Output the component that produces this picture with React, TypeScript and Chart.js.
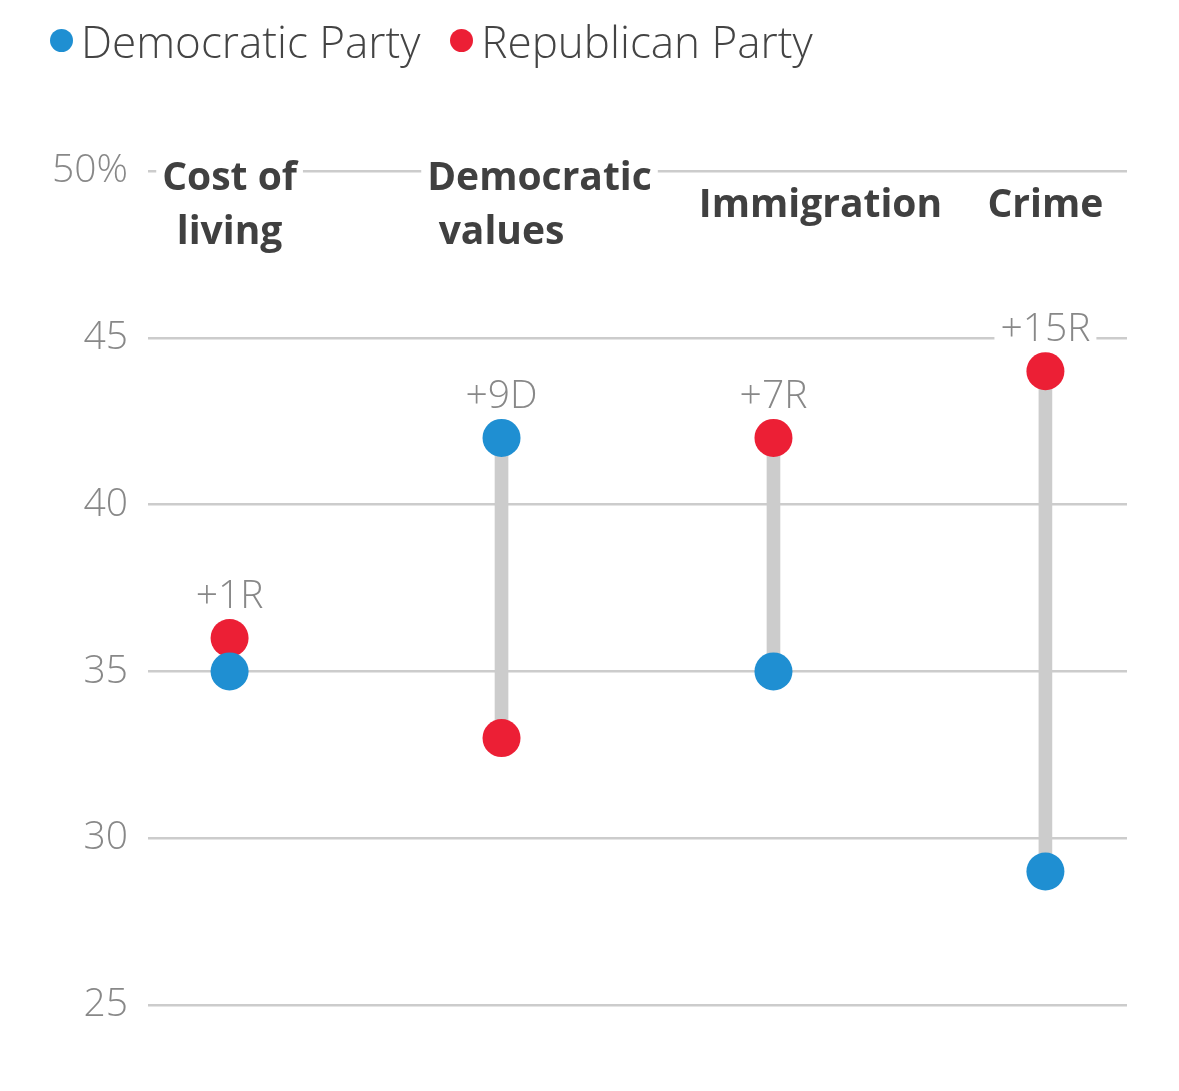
import React, { useEffect, useRef } from "react";
import { Chart, registerables } from "chart.js";

Chart.register(...registerables);

const categories = [["Cost of", "living"], ["Democratic", "values"], ["Immigration"], ["Crime"]];
const democratic = [35, 42, 35, 29];
const republican = [36, 33, 42, 44];
const yTicks = [25, 30, 35, 40, 45, 50];

const BLUE = "#1f8fd2";
const RED = "#ec1f35";
const FONT = '"Open Sans", "Noto Sans", sans-serif';
// horizontal nudges (px) per heading line, as in the original layout
const headingNudge = [[0, 0], [38, 0], [47], [0]];

const labelPlugin = {
  id: "dumbbellLabels",
  afterDatasetsDraw(chart: any) {
    const { ctx, scales, chartArea } = chart;
    const x = scales.x;
    const y = scales.y;
    ctx.save();
    ctx.textAlign = "center";
    ctx.textBaseline = "middle";

    // category headings with white backing over the grid
    ctx.font = `bold 39px ${FONT}`;
    categories.forEach((lines, i) => {
      const lh = 54;
      const midY = chartArea.top + 35;
      const startY = midY - ((lines.length - 1) * lh) / 2;
      lines.forEach((line, j) => {
        const cx = x.getPixelForValue(i) + headingNudge[i][j];
        const ly = startY + j * lh;
        const w = ctx.measureText(line).width;
        ctx.fillStyle = "#fff";
        ctx.fillRect(cx - w / 2 - 6, ly - lh / 2, w + 12, lh);
        ctx.fillStyle = "#404040";
        ctx.fillText(line, cx, ly);
      });
    });

    // gap labels above the higher dot
    ctx.font = `300 39px ${FONT}`;
    democratic.forEach((d, i) => {
      const r = republican[i];
      const gap = Math.abs(r - d);
      const text = `+${gap}${r > d ? "R" : "D"}`;
      const cx = x.getPixelForValue(i);
      const ly = y.getPixelForValue(Math.max(d, r)) - 41;
      const w = ctx.measureText(text).width;
      ctx.fillStyle = "#fff";
      ctx.fillRect(cx - w / 2 - 6, ly - 18, w + 12, 34);
      ctx.fillStyle = "#888";
      ctx.fillText(text, cx, ly);
    });
    ctx.restore();
  },
};

const DumbbellChart: React.FC = () => {
  const chartRef = useRef<HTMLCanvasElement | null>(null);
  const chartInstance = useRef<Chart | null>(null);

  useEffect(() => {
    if (chartInstance.current) {
      chartInstance.current.destroy();
    }
    if (chartRef.current) {
      chartInstance.current = new Chart(chartRef.current, {
        type: "scatter",
        data: {
          datasets: [
            {
              type: "bar",
              label: "gap",
              data: democratic.map((d, i) => ({ x: i, y: [Math.min(d, republican[i]), Math.max(d, republican[i])] })) as any,
              backgroundColor: "#cccccc",
              barThickness: 13,
              order: 3,
            } as any,
            {
              label: "Republican Party",
              data: republican.map((v, i) => ({ x: i, y: v })),
              backgroundColor: RED,
              borderWidth: 0,
              pointRadius: 19,
              order: 2,
            },
            {
              label: "Democratic Party",
              data: democratic.map((v, i) => ({ x: i, y: v })),
              backgroundColor: BLUE,
              borderWidth: 0,
              pointRadius: 19,
              order: 1,
            },
          ],
        },
        options: {
          animation: false,
          responsive: true,
          maintainAspectRatio: false,
          layout: { padding: { left: 0, top: 163, right: 44, bottom: 78 } },
          plugins: {
            legend: { display: false },
            tooltip: { enabled: false },
          },
          scales: {
            x: {
              type: "linear",
              min: -0.3,
              max: 3.3,
              offset: false,
              display: false,
            },
            y: {
              min: 25,
              max: 50,
              afterFit: (scale: any) => {
                scale.width = 140;
              },
              afterBuildTicks: (scale: any) => {
                scale.ticks = yTicks.map((v) => ({ value: v }));
              },
              border: { display: false },
              grid: { color: "#cccccc", lineWidth: 2.5, drawTicks: false },
              ticks: {
                padding: 20,
                color: "#888",
                font: { family: FONT, size: 39, weight: 300 as any },
                callback: (v: any) => (v === 50 ? "50%" : String(v)),
              },
            },
          },
        },
        plugins: [labelPlugin],
      });
    }
    return () => {
      if (chartInstance.current) {
        chartInstance.current.destroy();
        chartInstance.current = null;
      }
    };
  }, []);

  const legendItem = (color: string, text: string, gap: number) => (
    <span style={{ display: "inline-flex", alignItems: "center", marginRight: gap }}>
      <span
        style={{ width: 23, height: 23, borderRadius: "50%", background: color, display: "inline-block", marginRight: 8 }}
      />
      <span>{text}</span>
    </span>
  );

  return (
    <div style={{ position: "relative", width: 1163, height: 1075 }}>
      <div
        style={{
          position: "absolute",
          left: 42,
          top: -3,
          fontFamily: FONT,
          fontWeight: 300,
          fontSize: 44,
          color: "#444",
          lineHeight: "60px",
          whiteSpace: "nowrap",
        }}
      >
        {legendItem(BLUE, "Democratic Party", 30)}
        {legendItem(RED, "Republican Party", 0)}
      </div>
      <canvas ref={chartRef}></canvas>
    </div>
  );
};

export default function App() {
  return <DumbbellChart />;
}
